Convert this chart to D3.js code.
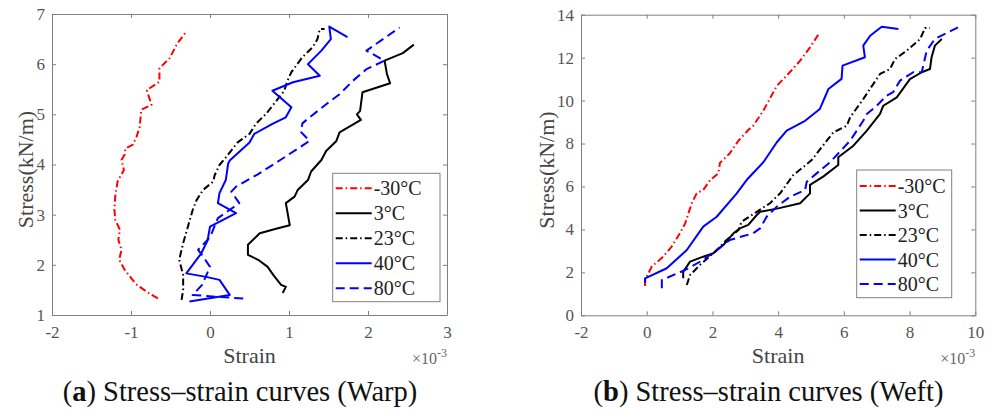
<!DOCTYPE html>
<html>
<head>
<meta charset="utf-8">
<script src="https://cdn.jsdelivr.net/npm/d3@7"></script>
<style>
  body { margin: 0; background: #fff; }
  text { font-family: "Liberation Serif", "Times New Roman", serif; }
</style>
</head>
<body>
<script>
// legend labels (same for both panels)
const seriesNames = ["-30\u00B0C", "3\u00B0C", "23\u00B0C", "40\u00B0C", "80\u00B0C"];

// (a) warp: [strain x1e-3, stress kN/m]
const warpM30 = [[-0.66,1.33],[-0.76,1.42],[-0.87,1.54],[-0.94,1.62],[-1.02,1.78],[-1.08,1.9],[-1.15,2.1],[-1.12,2.3],[-1.16,2.5],[-1.14,2.7],[-1.2,2.9],[-1.21,3.1],[-1.2,3.36],[-1.17,3.66],[-1.09,3.89],[-1.12,4.09],[-1.08,4.2],[-1.07,4.32],[-0.98,4.39],[-0.93,4.55],[-0.89,4.75],[-0.87,5.09],[-0.74,5.19],[-0.8,5.48],[-0.64,5.65],[-0.64,5.92],[-0.51,6.12],[-0.42,6.4],[-0.31,6.63]];
const warp3 = [[0.92,1.44],[0.96,1.56],[0.9,1.6],[0.8,1.8],[0.73,1.96],[0.61,2.1],[0.48,2.2],[0.48,2.4],[0.63,2.63],[0.86,2.73],[1.01,2.79],[0.96,3.23],[1.07,3.36],[1.11,3.49],[1.24,3.69],[1.28,3.86],[1.41,4.09],[1.47,4.27],[1.6,4.47],[1.64,4.64],[1.91,4.89],[1.86,5.0],[1.9,5.07],[1.93,5.44],[2.28,5.62],[2.24,5.8],[2.21,6.07],[2.44,6.22],[2.58,6.39]];
const warp23 = [[-0.36,1.3],[-0.34,1.5],[-0.34,1.8],[-0.39,2.1],[-0.34,2.43],[-0.28,2.76],[-0.22,3.09],[-0.17,3.29],[-0.09,3.49],[0.04,3.66],[0.06,3.79],[0.12,3.99],[0.18,4.1],[0.35,4.44],[0.5,4.61],[0.58,4.81],[0.71,5.01],[0.84,5.27],[0.94,5.47],[0.98,5.67],[1.03,5.84],[1.17,6.14],[1.3,6.34],[1.36,6.5],[1.39,6.7],[1.45,6.7]];
const warp40 = [[-0.26,1.27],[0.25,1.4],[0.12,1.7],[-0.05,1.76],[-0.3,1.83],[-0.11,2.23],[-0.03,2.49],[0.0,2.76],[0.33,3.03],[0.1,3.23],[0.12,3.43],[0.2,3.69],[0.23,4.02],[0.25,4.08],[0.5,4.44],[0.56,4.61],[0.79,4.81],[0.96,4.94],[1.03,5.14],[0.79,5.47],[1.05,5.64],[1.39,5.77],[1.24,6.0],[1.41,6.27],[1.53,6.5],[1.51,6.75],[1.74,6.54]];
const warp80 = [[0.42,1.33],[0.1,1.36],[-0.22,1.4],[-0.1,1.6],[0.0,1.96],[-0.08,2.15],[-0.15,2.3],[0.0,2.55],[0.1,2.93],[0.37,3.23],[0.27,3.46],[0.33,3.56],[0.6,3.8],[0.88,4.08],[1.26,4.47],[1.15,4.65],[1.17,4.82],[1.26,4.94],[1.51,5.25],[1.64,5.4],[1.81,5.67],[1.98,5.9],[2.21,6.07],[1.98,6.27],[2.4,6.73]];

// (b) weft
const weftM30 = [[-0.05,1.36],[-0.05,1.64],[0.15,2.26],[0.5,2.73],[0.76,3.2],[1.01,3.82],[1.17,4.28],[1.37,5.22],[1.52,5.68],[1.72,5.84],[1.93,6.3],[2.18,6.61],[2.23,7.1],[2.53,7.55],[2.79,8.13],[3.09,8.63],[3.24,8.83],[3.55,9.53],[3.96,10.69],[4.26,11.16],[4.67,11.86],[4.97,12.48],[5.27,13.18]];
const weft3 = [[1.11,1.72],[1.11,2.03],[1.32,2.5],[1.72,2.73],[2.03,2.89],[2.33,3.27],[2.64,3.82],[2.84,4.05],[3.09,4.21],[3.35,4.67],[3.45,4.82],[4.0,4.98],[4.67,5.22],[4.97,5.68],[4.97,6.07],[5.37,6.46],[5.83,7.0],[5.83,7.36],[6.29,7.9],[6.7,8.6],[7.1,9.38],[7.2,9.76],[7.61,10.15],[8.01,11.0],[8.37,11.32],[8.62,11.47],[8.67,12.02],[8.77,12.56],[8.98,12.87]];
const weft23 = [[1.22,1.41],[1.32,1.88],[1.62,2.34],[2.13,3.04],[2.43,3.51],[2.79,3.97],[2.89,4.36],[3.35,4.82],[3.75,5.22],[4.06,5.68],[4.46,6.53],[4.72,6.85],[5.02,7.23],[5.48,8.13],[5.68,8.52],[6.09,8.83],[6.19,9.22],[6.59,10.07],[7.1,11.24],[7.4,11.47],[7.56,11.94],[7.91,12.32],[8.32,12.87],[8.47,13.38],[8.62,13.38]];
const weft40 = [[-0.05,1.5],[-0.05,1.72],[0.61,2.19],[1.22,3.04],[1.72,4.13],[2.13,4.59],[2.74,5.68],[3.04,6.3],[3.55,7.13],[3.96,8.06],[4.26,8.6],[4.82,9.06],[5.27,9.61],[5.53,10.54],[5.93,11.01],[5.96,11.63],[6.64,12.02],[6.59,12.56],[6.8,13.02],[7.15,13.44],[7.66,13.33]];
const weft80 = [[0.46,1.26],[0.46,1.64],[1.17,2.11],[1.72,2.58],[2.13,3.04],[2.53,3.51],[3.24,3.82],[3.45,4.05],[3.65,4.59],[3.96,5.06],[4.36,5.52],[4.82,5.84],[4.87,6.22],[5.17,6.61],[5.58,7.13],[6.19,8.13],[6.59,9.06],[6.7,9.38],[7.0,9.76],[7.3,10.23],[7.5,10.39],[7.71,10.93],[8.11,11.32],[8.37,11.32],[8.52,12.32],[8.77,12.87],[9.48,13.41]];

// ticks
const warpXTicks = [-2, -1, 0, 1, 2, 3];
const warpYTicks = [1, 2, 3, 4, 5, 6, 7];
const weftXTicks = [-2, 0, 2, 4, 6, 8, 10];
const weftYTicks = [0, 2, 4, 6, 8, 10, 12, 14];

// line styles per series
const colors = ["#ff0000", "#000000", "#000000", "#0000ff", "#0000ff"];
const dashes = ["7,3,1.5,3", null, "7,3,1.5,3", null, "9,5"];

const svg = d3.select("body").append("svg")
    .attr("width", 992)
    .attr("height", 410);

const panels = [
  { series: [warpM30, warp3, warp23, warp40, warp80],
    xDom: [-2, 3], yDom: [1, 7], xr: [52, 447], yr: [315, 14],
    xTicks: warpXTicks, yTicks: warpYTicks,
    ylabX: 25, capX: 240, letter: "a", tail: ") Stress\u2013strain curves (Warp)",
    legend: { x: 332.7, y: 173.3, w: 107.3, h: 128.4, row0: 188.3, step: 25 } },
  { series: [weftM30, weft3, weft23, weft40, weft80],
    xDom: [-2, 10], yDom: [0, 14], xr: [581, 975.3], yr: [315.3, 14.7],
    xTicks: weftXTicks, yTicks: weftYTicks,
    ylabX: 546.7, capX: 768.5, letter: "b", tail: ") Stress\u2013strain curves (Weft)",
    legend: { x: 856.7, y: 170, w: 95, h: 127.7, row0: 186, step: 24.5 } }
];

panels.forEach(function(p) {
  let x = d3.scaleLinear().domain(p.xDom).range(p.xr);
  let y = d3.scaleLinear().domain(p.yDom).range(p.yr);
  let g = svg.append("g");

  // axes, ticks point inward like matlab
  let fmt = d => String(d);
  g.append("g").attr("transform", "translate(0," + p.yr[0] + ")")
    .call(d3.axisBottom(x).tickValues(p.xTicks).tickFormat(fmt).tickSizeInner(-4).tickSizeOuter(0).tickPadding(11));
  g.append("g").attr("transform", "translate(0," + p.yr[1] + ")")
    .call(d3.axisTop(x).tickValues(p.xTicks).tickFormat("").tickSizeInner(-4).tickSizeOuter(0));
  g.append("g").attr("transform", "translate(" + p.xr[0] + ",0)")
    .call(d3.axisLeft(y).tickValues(p.yTicks).tickFormat(fmt).tickSizeInner(-4).tickSizeOuter(0).tickPadding(7));
  g.append("g").attr("transform", "translate(" + p.xr[1] + ",0)")
    .call(d3.axisRight(y).tickValues(p.yTicks).tickFormat("").tickSizeInner(-4).tickSizeOuter(0));

  g.selectAll(".domain").attr("stroke", "#808080");
  g.selectAll(".tick line").attr("stroke", "#808080");
  g.selectAll(".tick text")
    .style("font-family", "Liberation Serif")
    .style("font-size", "17px")
    .attr("fill", "#555");

  // curves
  let line = d3.line().x(d => x(d[0])).y(d => y(d[1]));
  p.series.forEach(function(s, i) {
    g.append("path")
      .datum(s)
      .attr("d", line)
      .attr("fill", "none")
      .attr("stroke", colors[i])
      .attr("stroke-width", 2)
      .attr("stroke-linejoin", "round")
      .attr("stroke-dasharray", dashes[i]);
  });

  // legend
  let L = p.legend;
  let lg = g.append("g");
  lg.append("rect")
    .attr("x", L.x).attr("y", L.y).attr("width", L.w).attr("height", L.h)
    .attr("fill", "#fff").attr("stroke", "#808080").attr("stroke-width", 1);
  seriesNames.forEach(function(name, i) {
    let ry = L.row0 + i * L.step;
    lg.append("line")
      .attr("x1", L.x + 3).attr("x2", L.x + 39)
      .attr("y1", ry).attr("y2", ry)
      .attr("stroke", colors[i]).attr("stroke-width", 2)
      .attr("stroke-dasharray", dashes[i]);
    lg.append("text")
      .attr("x", L.x + 41).attr("y", ry + 7)
      .style("font-size", "20px")
      .attr("fill", "#222")
      .text(name);
  });

  // axis labels
  let midX = (p.xr[0] + p.xr[1]) / 2;
  g.append("text")
    .attr("x", midX).attr("y", 363)
    .attr("text-anchor", "middle")
    .style("font-size", "22px").attr("fill", "#444")
    .text("Strain");

  let ex = g.append("text")
    .attr("x", p.xr[1]).attr("y", 364)
    .attr("text-anchor", "end")
    .style("font-size", "16px").attr("fill", "#666");
  ex.append("tspan").text("\u00D710");
  ex.append("tspan").attr("dy", -7).style("font-size", "12px").text("-3");

  g.append("text")
    .attr("transform", "translate(" + p.ylabX + "," + ((p.yr[0] + p.yr[1]) / 2 + 5) + ") rotate(-90)")
    .attr("text-anchor", "middle")
    .attr("dy", "0.35em")
    .style("font-size", "22px").attr("fill", "#444")
    .text("Stress(kN/m)");

  // caption
  let cap = g.append("text")
    .attr("x", p.capX).attr("y", 401)
    .attr("text-anchor", "middle")
    .style("font-size", "28.5px").attr("fill", "#111");
  cap.append("tspan").text("(");
  cap.append("tspan").style("font-weight", "bold").text(p.letter);
  cap.append("tspan").text(p.tail);
});
</script>
</body>
</html>
